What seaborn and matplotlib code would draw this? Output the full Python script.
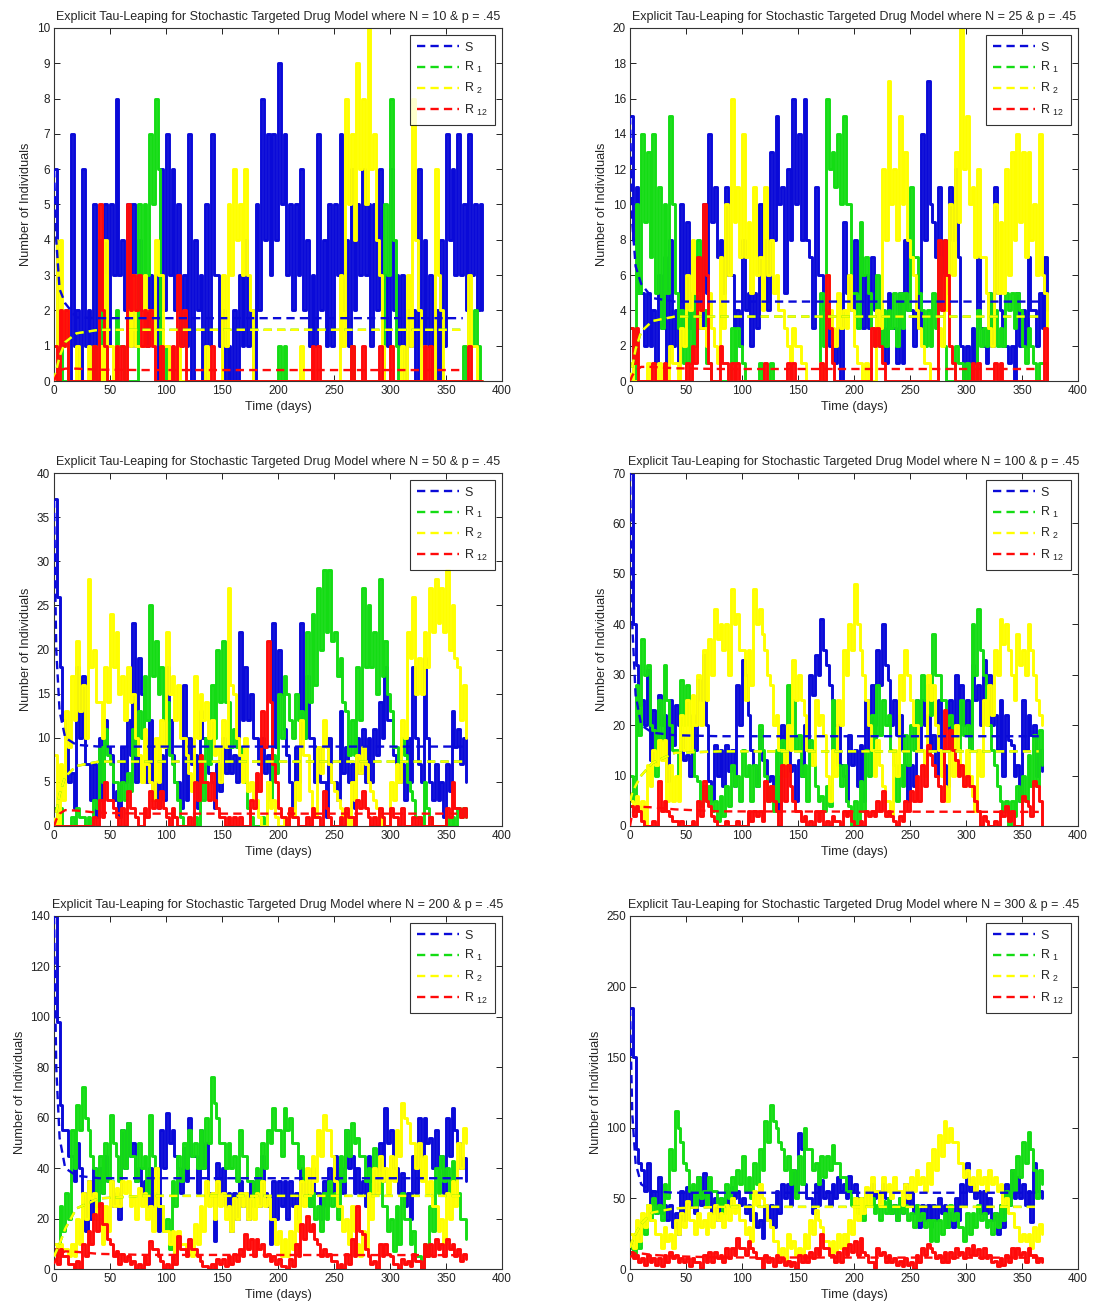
import numpy as np
import pandas as pd
import matplotlib
matplotlib.use("Agg")
import matplotlib.pyplot as plt
import seaborn as sns

sns.set_theme(style="ticks")
plt.rcParams['font.family'] = ['Liberation Sans', 'DejaVu Sans']
plt.rcParams['mathtext.default'] = 'regular'

# ---------------- data ----------------
# Each stochastic trace is given as the low / high value seen in every
# 5-day window (the tau-leaping paths fluctuate densely inside each window).
pop_sizes = [10, 25, 50, 100, 200, 300]
y_max = [10, 20, 40, 70, 140, 250]
y_step = [1, 2, 5, 10, 20, 50]
t_end = [380, 370, 365, 365, 365, 365]
window = 5

# ---- N = 10 ----
s_n10_lo = [1,1,0,1,0,1,0,1,2,1, 3,3,2,1,1,2,1,1,0,2, 3,2,1,1,0,2,0,1,3,1,
            0,0,0,1,1,0,2,4,3,4, 5,3,2,3,2,1,1,2,1,1, 3,2,1,2,3,3,1,2,3,1,
            2,1,0,1,0,1,1,0,0,1, 4,3,3,2,3,2,2]
s_n10_hi = [6,2,2,7,2,6,2,5,4,5, 5,8,4,5,5,4,3,3,3,6, 7,6,5,3,7,4,3,5,7,3,
            2,1,2,3,4,2,5,8,7,7, 9,7,5,5,6,4,3,7,4,5, 5,7,4,6,5,6,5,5,6,3,
            6,3,3,2,2,6,4,3,2,4, 7,6,7,5,7,5,5]
r1_n10_lo = [0,0,0,0,0,0,0,0,1,0, 0,1,0,0,0,3,3,5,6,0, 0,0,0,0,0,0,0,0,0,0,
             0,0,0,0,0,0,0,0,0,0, 0,0,0,0,0,0,0,0,0,0, 0,0,0,0,0,0,0,0,0,3,
             4,0,0,0,0,0,0,0,0,0, 0,0,0,0,1,1,0]
r1_n10_hi = [1,2,0,0,0,0,0,1,4,3, 0,2,1,0,0,5,5,7,8,1, 1,0,0,0,0,0,0,0,0,0,
             0,0,0,0,0,0,0,0,0,0, 1,1,0,0,0,0,0,0,0,0, 0,0,0,1,0,0,0,0,0,5,
             8,1,0,0,0,0,0,0,0,0, 0,0,0,1,2,2,0]
r2_n10_lo = [0,1,0,0,0,0,0,0,0,1, 0,0,0,1,1,1,2,1,3,1, 0,0,0,0,0,0,0,0,0,0,
             1,3,4,3,3,0,0,0,0,0, 0,0,0,0,0,0,0,0,0,0, 0,1,5,4,6,5,6,4,1,0,
             0,0,0,1,4,0,0,0,3,0, 0,0,0,0,1,0,0]
r2_n10_hi = [4,4,2,0,1,0,1,0,1,4, 1,1,0,2,3,1,3,2,4,3, 1,0,1,0,0,0,0,1,0,0,
             3,5,6,5,6,2,0,0,0,0, 0,0,0,0,1,0,0,0,0,0, 0,3,8,7,9,8,10,7,3,0,
             0,0,1,3,8,2,1,0,6,2, 0,0,0,0,3,1,0]
r12_n10_lo = [0,1,0,0,0,0,0,0,2,0, 0,0,0,2,2,1,1,1,0,0, 0,0,1,0,0,0,0,0,0,0,
              0,0,0,0,0,0,0,0,0,0, 0,0,0,0,0,0,0,0,0,0, 0,0,0,0,0,0,0,0,0,0,
              0,0,0,0,0,0,0,0,0,0, 0,0,0,0,0,0,0]
r12_n10_hi = [1,2,2,0,0,0,0,1,5,1, 0,1,1,5,3,3,2,2,0,1, 0,1,3,2,0,0,0,0,1,0,
              0,0,0,0,0,0,0,0,0,0, 0,0,0,0,0,0,1,1,0,0, 0,0,0,1,0,1,0,0,1,0,
              1,0,0,0,0,0,1,1,0,0, 0,0,0,0,1,0,0]

# ---- N = 25 ----
s_n25_lo = [8,5,2,2,1,3,1,2,1,2, 3,2,3,5,9,7,5,6,3,2, 4,2,3,6,4,8,10,5,8,10,
            8,8,3,6,4,2,1,0,5,4, 5,3,3,4,2,1,3,1,1,4, 2,3,8,10,7,6,5,8,7,0,
            0,1,3,1,2,5,2,1,0,2, 2,4,2,3,4]
s_n25_hi = [15,11,5,5,4,6,7,8,4,10, 9,5,7,10,14,11,8,11,6,4, 8,5,5,10,8,13,15,11,12,16,
            14,16,7,11,6,4,2,3,9,6, 8,7,6,7,4,3,5,3,5,8, 4,6,14,17,9,11,8,11,12,2,
            2,3,7,2,5,11,4,2,2,5, 4,7,4,5,7]
r1_n25_lo = [0,5,9,7,5,3,5,10,3,1, 1,2,4,1,0,0,0,0,1,2, 0,0,0,0,0,0,0,0,0,0,
             0,0,0,0,2,12,11,10,10,5, 3,6,5,2,2,2,3,2,3,4, 7,5,2,2,3,4,0,0,1,0,
             0,0,2,2,3,2,2,4,3,4, 1,2,0,1,0]
r1_n25_hi = [3,10,14,13,14,11,10,15,5,4, 4,5,8,4,1,0,0,0,3,3, 1,0,0,1,0,1,0,0,0,0,
             0,0,0,0,5,16,13,14,15,10, 5,9,7,3,6,4,4,5,5,5, 11,7,4,4,5,7,2,0,2,1,
             1,0,4,3,5,4,3,5,5,5, 2,3,1,1,1]
r2_n25_lo = [0,0,0,0,0,0,0,1,0,2, 4,5,3,2,3,1,3,6,9,7, 7,5,6,4,6,5,4,3,1,2,
             1,0,0,0,0,4,2,3,3,4, 1,0,0,0,3,8,10,8,10,8, 6,3,1,0,0,2,4,6,9,12,
             10,7,7,5,2,5,5,6,8,9, 7,8,6,6,3]
r2_n25_hi = [1,0,0,1,0,1,0,2,1,3, 6,8,5,3,5,2,7,10,16,11, 14,9,11,7,11,8,6,4,2,3,
             2,1,0,0,1,6,3,5,4,6, 2,1,1,0,4,12,17,12,15,13, 7,4,2,1,0,3,6,10,13,20,
             15,11,12,7,3,10,9,12,13,14, 13,13,10,14,5]
r12_n25_lo = [1,0,0,0,0,0,0,0,0,0, 0,1,4,6,0,0,1,0,0,0, 0,0,0,0,0,0,0,0,0,0,
              0,0,0,0,0,3,0,0,0,0, 0,0,0,2,2,0,0,0,0,0, 0,0,0,0,0,4,6,1,0,0,
              0,0,0,0,0,0,0,0,0,0, 0,0,0,0,0]
r12_n25_hi = [3,3,0,0,1,0,1,0,0,0, 1,2,7,10,1,0,2,1,1,1, 0,0,0,0,1,0,0,0,1,1,
              0,0,0,0,1,6,1,0,0,0, 0,0,0,3,3,1,0,0,0,0, 0,0,0,0,0,8,8,2,0,0,
              0,1,1,0,0,1,1,0,0,0, 0,0,0,0,3]

# ---- N = 50 ----
s_n50_lo = [26,12,5,2,10,7,3,1,3,9, 3,1,5,8,5,15,5,3,2,3, 12,5,2,3,7,2,10,6,2,4,
            6,6,5,12,12,10,7,6,5,9, 15,8,2,5,10,10,5,5,1,5, 3,6,5,2,6,5,5,8,10,12,
            8,5,3,5,10,5,10,3,3,1, 4,9,7,5]
s_n50_hi = [37,18,10,6,18,17,7,7,10,12, 8,4,9,12,23,19,10,12,5,8, 18,8,5,16,10,8,13,9,5,7,
            10,9,8,22,18,15,10,10,8,23, 20,11,5,9,23,17,10,9,5,10, 5,13,9,7,10,11,10,11,14,18,
            12,7,7,10,18,7,19,5,7,5, 7,13,11,10]
r1_n50_lo = [0,0,0,0,1,0,0,2,5,8, 5,3,3,4,8,10,12,17,15,12, 8,5,1,0,0,0,3,7,10,14,
             14,9,9,7,2,0,0,0,3,6, 10,15,10,12,10,14,16,20,22,21, 17,14,8,8,12,18,18,15,17,15,
             9,7,8,4,1,0,2,0,0,0, 0,0,1,1]
r1_n50_hi = [2,2,0,1,2,1,1,3,9,11, 7,5,5,6,11,13,17,25,21,18, 14,7,3,0,0,1,5,10,16,20,
             21,14,11,9,5,1,0,1,5,8, 15,17,12,15,13,22,24,27,29,29, 22,19,13,12,18,27,25,22,28,21,
             13,9,10,5,3,1,5,1,0,0, 1,1,2,2]
r2_n50_lo = [0,3,9,12,13,10,18,14,10,14, 18,15,12,14,10,5,7,3,5,9, 15,12,10,8,4,10,12,10,8,5,
             9,16,10,5,4,3,1,0,2,1, 0,0,1,3,8,4,1,6,9,5, 3,1,0,3,6,7,4,2,0,0,
             3,5,10,19,15,15,18,22,23,22, 20,19,12,10]
r2_n50_hi = [8,7,13,17,21,16,28,20,14,18, 24,22,17,18,15,8,11,5,10,12, 22,17,16,10,6,17,15,14,12,9,
             12,27,15,8,10,5,3,0,5,3, 0,1,2,5,12,8,2,9,12,7, 4,2,1,5,8,9,5,3,1,0,
             5,7,12,22,26,19,22,27,28,27, 29,25,18,16]
r12_n50_lo = [0,0,0,0,0,0,0,0,1,3, 2,0,0,2,1,0,1,2,2,2, 0,1,0,0,0,3,5,3,3,1,
              0,0,0,0,0,2,4,9,14,5, 1,0,1,0,0,0,1,0,2,0, 0,0,1,0,2,2,0,0,1,0,
              1,0,0,0,0,0,0,0,0,0, 1,2,1,1]
r12_n50_hi = [0,0,0,0,0,0,0,1,3,5, 3,1,2,4,2,0,2,4,3,4, 1,2,0,0,1,5,8,5,6,2,
              1,1,1,1,0,3,6,13,21,7, 2,1,2,1,0,1,2,1,4,1, 0,1,2,1,3,4,1,1,2,0,
              2,1,2,0,1,1,0,1,0,0, 2,5,2,2]

# ---- N = 100 ----
s_n100_lo = [40,24,20,13,15,20,9,16,20,13, 10,15,25,20,5,10,8,11,8,20, 30,15,8,13,9,5,3,15,11,5,
             10,15,26,30,35,28,20,12,5,12, 8,5,15,20,28,32,20,18,15,5, 8,15,20,15,10,15,8,15,18,20,
             15,25,20,28,20,15,10,17,10,5, 15,18,10,11]
s_n100_hi = [70,32,25,31,23,26,22,25,24,18, 14,22,29,34,9,16,15,16,15,28, 33,22,12,19,13,10,10,20,15,12,
             13,20,30,34,41,32,25,20,10,18, 15,16,25,28,35,40,29,25,22,12, 12,25,25,22,18,25,12,25,30,28,
             25,32,28,33,30,22,25,22,16,12, 25,22,20,15]
r1_n100_lo = [5,18,30,20,10,17,25,15,10,20, 20,10,4,5,3,1,2,4,8,5, 10,5,8,15,5,3,5,12,20,15,
              10,5,12,5,3,4,15,8,5,0, 0,3,10,15,18,20,15,5,8,12, 15,20,25,22,30,25,20,15,15,18,
              15,30,35,25,15,8,3,0,2,5, 5,8,8,12]
r1_n100_hi = [10,28,37,32,19,25,32,20,15,29, 28,15,9,8,8,5,6,8,12,10, 15,12,12,20,10,8,15,17,28,25,
              18,12,17,8,6,8,25,12,12,4, 5,9,15,22,28,25,22,12,12,18, 20,25,30,28,38,30,25,22,20,25,
              20,40,43,30,20,12,5,5,5,8, 10,14,18,19]
r2_n100_lo = [3,3,0,8,12,13,5,5,5,15, 15,20,20,25,30,37,35,30,40,35, 25,28,40,38,30,20,15,10,15,25,
              25,15,12,20,18,5,10,20,30,35, 40,30,20,10,12,5,2,10,25,30, 20,15,10,25,20,10,5,10,15,8,
              10,3,10,20,22,30,36,35,25,32, 30,35,25,20]
r2_n100_hi = [5,6,5,12,15,17,17,12,10,22, 25,26,30,35,37,43,40,40,47,42, 35,35,47,43,35,28,22,15,20,33,
              30,22,15,25,22,10,15,25,35,40, 48,35,25,15,17,8,5,15,30,35, 25,20,15,30,28,15,8,15,20,12,
              15,6,15,25,28,35,41,40,30,38, 35,40,30,22]
r12_n100_lo = [2,3,0,0,0,3,3,1,0,0, 0,0,2,5,2,0,0,0,0,0, 0,1,2,1,5,5,0,5,8,3,
               1,0,0,1,0,0,1,0,2,1, 0,0,2,2,3,2,2,0,1,3, 5,5,8,14,10,5,15,15,10,8,
               8,5,0,1,0,0,2,1,0,0, 5,2,8,0]
r12_n100_hi = [4,4,1,0,1,9,5,2,1,1, 0,1,5,9,4,1,0,1,0,1, 0,3,3,3,9,8,3,12,12,5,
               3,2,1,3,3,1,2,1,3,3, 0,1,3,3,5,7,3,1,2,5, 7,10,12,16,12,8,23,19,13,12,
               10,8,3,2,0,1,3,4,3,0, 6,4,9,5]

# ---- N = 200 ----
s_n200_lo = [98,55,45,35,40,15,20,25,30,35, 25,20,40,45,35,30,25,25,15,40, 50,45,30,35,45,30,40,30,11,30,
             25,15,20,25,20,25,25,30,10,20, 25,20,25,20,30,25,30,20,25,30, 35,30,40,30,30,25,35,30,35,50,
             40,30,25,20,30,45,50,40,40,30, 45,55,40,35]
s_n200_hi = [140,65,55,45,50,30,35,40,40,45, 35,30,55,58,50,40,35,40,30,55, 62,55,40,48,60,45,55,50,30,42,
             40,30,30,35,30,35,35,45,25,35, 35,35,35,30,40,35,40,30,35,40, 45,40,55,45,40,35,45,40,50,64,
             55,40,38,30,45,60,60,52,55,45, 60,64,50,44]
r1_n200_lo = [5,15,20,40,55,60,45,25,30,35, 50,35,40,45,35,40,30,45,25,15, 8,25,35,40,45,40,40,50,66,50,
              40,40,35,45,35,25,30,40,50,55, 45,55,50,40,35,25,20,15,20,25, 20,35,45,50,45,35,30,35,25,15,
              7,10,20,10,5,0,5,15,30,35, 30,35,20,12]
r1_n200_hi = [10,25,30,55,65,72,55,40,45,50, 61,45,55,58,45,50,45,61,40,25, 20,35,45,50,55,50,55,60,76,60,
              50,50,45,55,45,35,40,50,55,64, 55,64,60,50,45,35,30,25,30,35, 30,45,55,58,52,45,40,48,38,25,
              20,25,30,20,15,5,10,25,40,45, 40,43,30,20]
r2_n200_lo = [5,8,5,5,10,20,28,20,10,15, 25,25,30,25,20,25,20,15,25,15, 10,5,10,5,5,10,15,25,20,25,
              20,15,20,25,20,20,25,25,20,10, 5,5,8,15,25,30,35,45,55,45, 25,15,10,15,5,8,20,30,35,30,
              35,45,60,50,40,35,30,25,15,10, 20,25,40,50]
r2_n200_hi = [10,10,8,10,20,30,35,30,20,25, 35,32,35,35,28,32,30,25,40,25, 15,15,15,10,10,18,25,35,30,35,
              30,25,28,30,30,28,30,35,28,20, 15,12,15,25,35,40,45,55,61,55, 35,25,20,25,10,15,30,40,45,40,
              45,55,66,58,50,50,45,35,25,20, 30,35,50,56]
r12_n200_lo = [2,5,2,0,0,5,10,15,18,12, 5,2,3,2,0,0,2,8,5,0, 0,2,8,5,8,5,1,0,0,2,
               1,2,3,5,8,5,8,5,3,2, 1,0,1,5,12,15,12,5,5,3, 0,0,2,5,15,8,2,0,5,6,
               2,0,2,1,3,0,5,5,8,5, 8,5,3,4]
r12_n200_hi = [8,8,5,2,3,10,15,22,26,18, 10,7,6,5,3,2,5,11,8,3, 2,5,13,8,12,8,3,1,2,4,
               4,5,6,8,14,12,12,10,6,5, 4,1,4,10,18,21,18,10,8,6, 3,2,6,12,25,14,5,3,10,10,
               5,2,4,3,6,3,10,10,12,10, 12,10,8,6]

# ---- N = 300 ----
s_n300_lo = [150,75,55,45,40,40,35,30,25,35, 45,40,45,50,40,35,40,45,50,45, 40,35,30,22,35,30,40,50,45,55,
             85,50,40,45,50,45,50,55,50,55, 50,40,45,50,45,50,40,35,40,45, 40,30,35,30,35,40,30,30,35,45,
             55,50,40,40,35,25,30,45,50,50, 45,33,55,50]
s_n300_hi = [185,85,70,75,55,65,45,45,40,55, 58,55,65,68,55,50,50,55,58,55, 50,45,40,35,45,45,55,60,60,70,
             96,60,50,60,63,55,60,65,60,66, 60,50,55,60,55,60,50,45,50,60, 55,45,45,45,45,50,45,40,50,60,
             75,60,55,55,50,40,45,60,70,65, 60,55,75,55]
r1_n300_lo = [10,15,25,35,40,35,50,70,100,75, 55,45,50,45,55,45,40,50,55,60, 55,50,60,70,90,105,90,70,60,50,
              60,85,70,60,65,70,75,65,55,45, 40,35,45,40,35,40,40,35,40,35, 30,35,30,20,20,25,30,35,30,20,
              25,30,35,30,25,30,35,45,55,65, 75,85,50,60]
r1_n300_hi = [15,25,35,45,50,45,60,85,112,90, 70,60,65,55,65,55,50,60,65,70, 80,65,75,85,105,116,100,85,80,70,
              80,100,85,75,80,80,88,75,65,55, 50,50,55,50,45,48,50,45,50,45, 40,45,40,35,35,35,40,45,40,30,
              40,40,45,40,35,40,45,55,70,80, 90,97,70,70]
r2_n300_lo = [15,20,30,35,25,15,20,15,25,30, 35,25,30,25,30,35,30,35,40,35, 25,20,45,50,35,20,10,5,15,10,
              10,15,25,35,20,10,12,15,15,25, 35,40,45,55,45,55,50,55,45,50, 55,60,55,60,70,80,90,90,75,65,
              60,55,60,55,60,55,45,40,30,20, 20,15,20,25]
r2_n300_hi = [25,35,40,45,35,25,30,25,35,40, 48,35,40,35,40,45,40,45,50,45, 35,30,55,60,45,30,20,15,25,20,
              15,25,35,42,30,20,20,25,25,35, 50,50,58,65,55,65,60,65,55,60, 65,70,65,75,85,95,105,100,90,75,
              70,65,70,65,70,65,60,50,40,30, 25,25,30,32]
r12_n300_lo = [8,5,3,5,3,2,5,8,5,5, 2,5,1,5,5,8,5,8,10,15, 10,15,8,1,5,2,5,3,2,0,
               5,5,8,10,15,10,5,5,10,12, 10,12,5,1,10,5,5,3,2,3, 0,5,10,15,8,5,5,8,10,8,
               10,10,8,8,5,2,3,5,8,10, 5,10,5,5]
r12_n300_hi = [12,10,8,10,8,8,10,12,10,8, 8,8,5,10,12,12,10,15,15,22, 15,20,12,8,10,8,10,8,6,5,
               10,10,12,15,25,15,10,12,15,18, 20,22,10,5,15,12,10,8,6,8, 5,10,15,18,12,10,12,12,15,12,
               15,17,14,15,10,6,8,10,15,15, 12,15,10,8]

# ---- deterministic (dashed) solutions ----
det_days = [0, 2, 5, 10, 20, 40, 80, 365]
det_s = [[6, 4, 2.6, 2.2, 1.8, 1.78, 1.78, 1.78],
         [15, 9, 6.5, 5.5, 4.7, 4.5, 4.5, 4.5],
         [37, 20, 13, 10, 9.2, 9, 9, 9],
         [70, 40, 26, 20, 18.5, 18, 17.8, 17.8],
         [140, 80, 52, 40, 37, 36, 36, 36],
         [185, 110, 75, 60, 55, 54, 54, 54]]
det_r2 = [[0, 0.3, 0.7, 1.1, 1.35, 1.45, 1.45, 1.45],
          [0, 0.8, 1.8, 2.8, 3.4, 3.65, 3.65, 3.65],
          [0, 1.6, 3.6, 5.6, 6.8, 7.3, 7.3, 7.3],
          [5, 6.5, 8, 10, 12.5, 14.5, 14.8, 14.8],
          [5, 7, 10, 16, 24, 28, 29, 29],
          [15, 20, 25, 32, 40, 43, 44, 44]]
det_r1 = det_r2
det_r12 = [[0, 0.15, 0.3, 0.35, 0.35, 0.32, 0.31, 0.31],
           [0, 0.3, 0.6, 0.8, 0.8, 0.72, 0.68, 0.68],
           [0, 0.7, 1.4, 1.8, 1.75, 1.5, 1.4, 1.4],
           [0, 2.5, 3.5, 3.8, 3.7, 3.3, 2.9, 2.8],
           [2, 4, 6, 7, 6.8, 6, 5.6, 5.5],
           [8, 10, 11, 11, 10, 9, 8.2, 8]]

series_names = ["S", "R $_{1}$", "R $_{2}$", "R $_{12}$"]
colors = ["#0a0ad8", "#14dc14", "#ffff00", "#ff0a0a"]

lows = [[s_n10_lo, r1_n10_lo, r2_n10_lo, r12_n10_lo],
        [s_n25_lo, r1_n25_lo, r2_n25_lo, r12_n25_lo],
        [s_n50_lo, r1_n50_lo, r2_n50_lo, r12_n50_lo],
        [s_n100_lo, r1_n100_lo, r2_n100_lo, r12_n100_lo],
        [s_n200_lo, r1_n200_lo, r2_n200_lo, r12_n200_lo],
        [s_n300_lo, r1_n300_lo, r2_n300_lo, r12_n300_lo]]
highs = [[s_n10_hi, r1_n10_hi, r2_n10_hi, r12_n10_hi],
         [s_n25_hi, r1_n25_hi, r2_n25_hi, r12_n25_hi],
         [s_n50_hi, r1_n50_hi, r2_n50_hi, r12_n50_hi],
         [s_n100_hi, r1_n100_hi, r2_n100_hi, r12_n100_hi],
         [s_n200_hi, r1_n200_hi, r2_n200_hi, r12_n200_hi],
         [s_n300_hi, r1_n300_hi, r2_n300_hi, r12_n300_hi]]
dets = [[det_s[i], det_r1[i], det_r2[i], det_r12[i]] for i in range(6)]


def trace_table(lo, hi, t_last):
    """Path visiting each window's high value, then its low value."""
    starts = np.arange(0, t_last + 1, window)
    assert len(starts) == len(lo) == len(hi)
    t = np.column_stack([starts, starts + window / 2]).ravel()
    v = np.column_stack([hi, lo]).ravel()
    return pd.DataFrame({"day": t, "count": v})


# ---------------- figure ----------------
W, H = 1093, 1308
fig = plt.figure(figsize=(W / 100, H / 100), dpi=100)
col_left = [54, 630]
row_top = [28, 473, 916]
ax_w, ax_h = 448, 353

for k in range(6):
    r, c = divmod(k, 2)
    ax = fig.add_axes([col_left[c] / W, 1 - (row_top[r] + ax_h) / H, ax_w / W, ax_h / H])
    for j in range(4):
        df = trace_table(lows[k][j], highs[k][j], t_end[k])
        sns.lineplot(data=df, x="day", y="count", ax=ax, color=colors[j], lw=2.1,
                     drawstyle="steps-post", estimator=None, sort=False, legend=False, zorder=2)
    handles = []
    for j in range(4):
        sns.lineplot(x=det_days, y=dets[k][j], ax=ax, color=colors[j], lw=1.7,
                     linestyle=(0, (3.5, 2.2)), estimator=None, sort=False,
                     legend=False, zorder=3)
        handles.append(ax.lines[-1])
    ax.set_xlim(0, 400)
    ax.set_ylim(0, y_max[k])
    ax.set_xticks(np.arange(0, 401, 50))
    ax.set_yticks(np.arange(0, y_max[k] + 0.01, y_step[k]))
    ax.tick_params(direction="in", top=True, right=True, length=4, width=0.7,
                   labelsize=8.5, colors="#222222", pad=3)
    for sp in ax.spines.values():
        sp.set_color("#333333")
        sp.set_linewidth(0.8)
    ax.set_xlabel("Time (days)", fontsize=9.2, labelpad=3)
    ax.set_ylabel("Number of Individuals", fontsize=9.2, labelpad=3)
    ax.set_title(f"Explicit Tau-Leaping for Stochastic Targeted Drug Model where N = {pop_sizes[k]} & p = .45",
                 fontsize=9.0, pad=6)
    leg = ax.legend(handles, series_names, loc="upper right", fontsize=9,
                    frameon=True, fancybox=False, edgecolor="black",
                    handlelength=3.4, labelspacing=0.5, borderaxespad=0.55,
                    borderpad=0.55, handletextpad=0.4)
    leg.get_frame().set_linewidth(0.8)
    leg.set_zorder(10)

fig.savefig("out.png", dpi=100)
